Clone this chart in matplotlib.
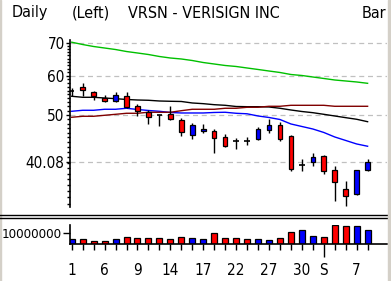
import matplotlib
matplotlib.use("Agg")
import matplotlib.pyplot as plt
from matplotlib.lines import Line2D
from matplotlib.patches import Rectangle
from matplotlib.ticker import FixedLocator, NullFormatter

W, H, DPI = 391, 281, 100

# --- data ---
opens = [55.9, 56.85, 55.6, 54.0, 53.3, 54.5, 52.2, 50.7, 50.0, 50.15,
         48.8, 45.6, 46.3, 46.35, 45.0, 44.2, 44.2, 44.7, 46.6, 47.7,
         45.25, 39.55, 40.15, 41.2, 38.7, 35.4, 34.5, 38.6]
highs = [56.7, 57.9, 55.9, 54.8, 55.6, 55.5, 52.5, 51.2, 50.0, 52.05,
         49.3, 48.1, 47.9, 46.7, 45.7, 44.9, 45.1, 47.2, 49.0, 48.3,
         45.5, 40.75, 41.9, 41.45, 39.3, 36.7, 38.7, 40.7]
lows = [54.6, 54.7, 53.65, 53.05, 53.05, 51.7, 49.8, 47.9, 47.5, 48.8,
        45.35, 44.7, 46.0, 41.9, 43.0, 42.7, 43.4, 44.4, 46.0, 44.3,
        38.4, 38.4, 39.3, 38.0, 33.5, 32.6, 34.4, 38.4]
closes = [55.9, 56.2, 54.5, 53.4, 54.8, 51.95, 50.9, 49.6, 50.0, 49.1,
          46.2, 47.6, 46.8, 44.8, 43.3, 44.2, 44.2, 46.85, 47.7, 44.7,
          38.8, 39.55, 41.0, 38.4, 36.5, 34.2, 38.6, 40.15]

ma_green = [70.16, 69.41, 68.77, 68.29, 67.81, 67.18, 66.72, 66.25, 65.64, 65.18,
            64.88, 64.42, 63.82, 63.38, 62.94, 62.65, 62.21, 61.78, 61.34, 60.92,
            60.35, 60.07, 59.65, 59.24, 58.82, 58.55, 58.28, 57.92]
ma_black = [54.52, 54.26, 54.26, 54.08, 53.91, 53.71, 53.58, 53.51, 53.33, 53.26,
            53.21, 52.84, 52.67, 52.42, 52.27, 51.98, 51.93, 51.93, 51.86, 51.55,
            51.14, 50.78, 50.50, 50.12, 49.73, 49.34, 48.97, 48.42]
ma_blue = [50.83, 51.07, 51.07, 51.31, 51.31, 51.55, 51.26, 51.02, 50.83, 50.55,
           50.43, 50.43, 50.43, 50.55, 50.60, 50.36, 50.24, 49.73, 49.38, 48.92,
           47.91, 47.35, 46.80, 46.05, 45.09, 44.36, 43.64, 43.18]
ma_darkred = [49.43, 49.66, 49.66, 49.89, 50.12, 50.36, 50.36, 50.60, 50.60, 50.60,
              50.97, 51.31, 51.31, 51.31, 51.55, 51.55, 51.79, 51.79, 52.03, 52.03,
              52.27, 52.27, 52.27, 52.27, 52.03, 52.03, 52.03, 52.03]

volumes = [4.3e6, 4.3e6, 2.5e6, 2.5e6, 4.3e6, 6.1e6, 5.2e6, 5.2e6, 5.2e6, 4.3e6,
           6.1e6, 5.2e6, 4.3e6, 9.7e6, 5.2e6, 5.2e6, 4.3e6, 4.3e6, 3.4e6, 5.2e6,
           10.6e6, 12.5e6, 7.0e6, 6.1e6, 17.0e6, 16.1e6, 16.1e6, 12.5e6]
vol_colors = ["b", "r", "r", "r", "b", "r", "r", "r", "r", "r",
              "r", "b", "b", "r", "r", "r", "r", "b", "b", "r",
              "r", "b", "b", "r", "r", "r", "b", "b"]

x_label_pos = [0, 3, 6, 9, 12, 15, 18, 21, 23, 26]
x_labels = ["1", "6", "9", "14", "17", "22", "27", "30", "S", "7"]
month_break = 23

price_ticks = [70, 60, 50, 40.08]
price_tick_labels = ["70", "60", "50", "40.08"]
minor_ticks = list(range(33, 71))

RED = "#ff0000"
BLUE = "#0000ff"
GRAY = "#c0c0c0"
plt.rcParams["font.family"] = ["DejaVu Sans"]
plt.rcParams["font.stretch"] = "condensed"
plt.rcParams["font.size"] = 11


def box(x0, y0, x1, y1):
    """pixel box (top-left origin) -> figure fraction rect"""
    return [x0 / W, 1 - y1 / H, (x1 - x0) / W, (y1 - y0) / H]


fig = plt.figure(figsize=(W / DPI, H / DPI), dpi=DPI, facecolor="white")

n = len(closes)
xs = list(range(n))
xlim = (-0.13, 28.77)

# --- price panel ---
ax = fig.add_axes(box(70.3, 40, 387, 207))
ax.set_yscale("log")
ax.set_xlim(*xlim)
ax.set_ylim(32.52, 70.89)
for s in ("top", "right", "bottom"):
    ax.spines[s].set_visible(False)
ax.spines["left"].set_linewidth(1.2)
ax.set_xticks([])
ax.yaxis.set_major_locator(FixedLocator(price_ticks))
ax.yaxis.set_minor_locator(FixedLocator(minor_ticks))
ax.set_yticklabels(price_tick_labels)
ax.yaxis.set_minor_formatter(NullFormatter())
ax.tick_params(axis="y", which="major", length=3, width=1, pad=1, labelsize=11)
ax.tick_params(axis="y", which="minor", length=2, width=1)
for t in price_ticks:
    ax.axhline(t, color=GRAY, linestyle=(0, (4, 3)), linewidth=0.9, zorder=0)

ax.plot(xs, ma_green, color="#00c000", linewidth=1.0, zorder=1)
ax.plot(xs, ma_black, color="black", linewidth=1.0, zorder=1)
ax.plot(xs, ma_blue, color=BLUE, linewidth=1.0, zorder=1)
ax.plot(xs, ma_darkred, color="#800000", linewidth=1.0, zorder=1)

ax.vlines(xs, lows, highs, color="black", linewidth=1.0, zorder=2)
for i in xs:
    o, c = opens[i], closes[i]
    if c == o:
        ax.hlines(c, i - 0.25, i + 0.25, color="black", linewidth=1.2, zorder=3)
    else:
        ax.bar(i, abs(c - o), bottom=min(o, c), width=0.42,
               color=RED if c < o else BLUE, edgecolor="black",
               linewidth=0.9, zorder=3)

# --- volume panel ---
vax = fig.add_axes(box(70.3, 225, 387, 244))
vax.set_xlim(*xlim)
vax.set_ylim(0, 17.27e6)
vax.bar(xs, volumes, width=0.55,
        color=[RED if c == "r" else BLUE for c in vol_colors],
        edgecolor="black", linewidth=0.9, zorder=2)
vax.spines["top"].set_visible(False)
vax.spines["right"].set_visible(False)
vax.spines["left"].set_linewidth(1.2)
vax.spines["bottom"].set_linewidth(1.2)
vax.set_yticks([10000000])
vax.set_yticklabels(["10000000"])
vax.tick_params(axis="y", length=5, width=1, pad=1, labelsize=9.5)
vax.set_xticks(xs)
vax.set_xticklabels([x_labels[x_label_pos.index(i)] if i in x_label_pos else "" for i in xs])
vax.tick_params(axis="x", length=4, width=1, pad=10, labelsize=11)
vax.xaxis.get_major_ticks()[month_break].tick1line.set_markersize(9)

# --- header text ---
ty = 1 - 13 / H
fig.text(12 / W, ty, "Daily", va="center", ha="left", fontsize=11.5)
fig.text(72 / W, ty, "(Left)", va="center", ha="left", fontsize=11.5)
fig.text(128 / W, ty, "VRSN - VERISIGN INC", va="center", ha="left", fontsize=11.5)
fig.text(362 / W, ty, "Bar", va="center", ha="left", fontsize=11.5)

# separator between panels and window frame
for yy in (215, 217.5):
    fig.add_artist(Line2D([0, 388 / W], [1 - yy / H] * 2, color="black", linewidth=1.0))
fig.add_artist(Rectangle((388 / W, 0), 3 / W, 1, transform=fig.transFigure,
                         color="#d4d0c8", zorder=5))
fig.add_artist(Rectangle((0, 0), 1 / W, 1, transform=fig.transFigure,
                         color="#d4d0c8", zorder=-1))

fig.savefig("out.png", dpi=DPI, facecolor="white")
plt.close(fig)
